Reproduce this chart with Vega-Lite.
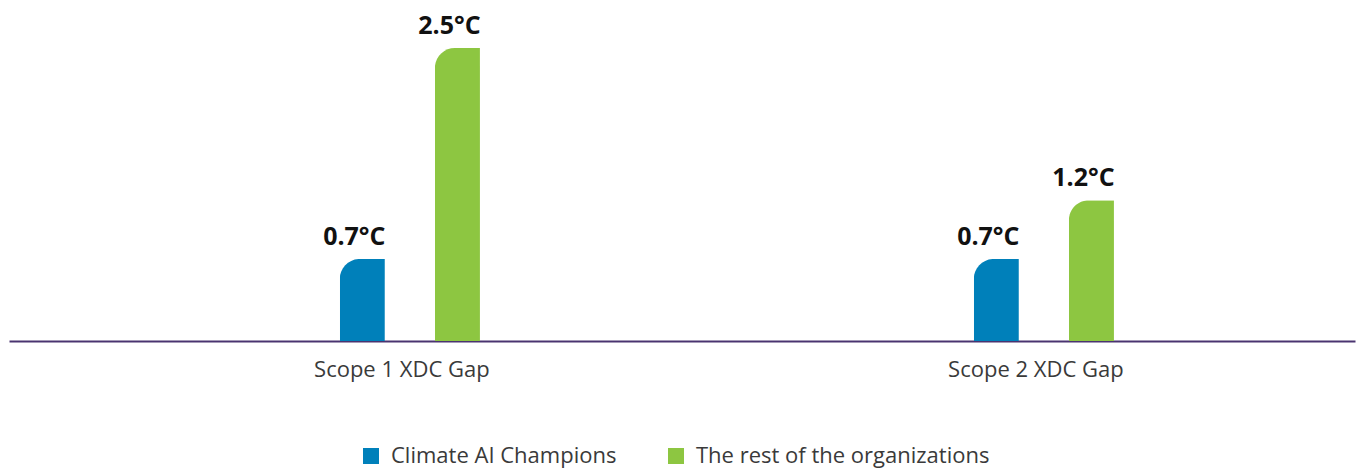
{
  "$schema": "https://vega.github.io/schema/vega-lite/v6.json",
  "width": 1346,
  "height": 293,
  "autosize": {"type": "none"},
  "padding": {"left": 9, "top": 48, "right": 5, "bottom": 128},
  "background": "white",
  "config": {"view": {"stroke": null}, "font": "Open Sans"},
  "data": {
    "values": [
      {"scope": "Scope 1 XDC Gap", "group": "Climate AI Champions", "value": 0.7, "label": "0.7°C"},
      {"scope": "Scope 1 XDC Gap", "group": "The rest of the organizations", "value": 2.5, "label": "2.5°C"},
      {"scope": "Scope 2 XDC Gap", "group": "Climate AI Champions", "value": 0.7, "label": "0.7°C"},
      {"scope": "Scope 2 XDC Gap", "group": "The rest of the organizations", "value": 1.2, "label": "1.2°C"}
    ]
  },
  "encoding": {
    "x": {
      "field": "scope",
      "type": "nominal",
      "scale": {"paddingInner": 0.7, "paddingOuter": 0.4115, "align": 0.586},
      "axis": {
        "title": null,
        "labelAngle": 0,
        "ticks": false,
        "domainColor": "#4a3470",
        "domainWidth": 2,
        "labelFontSize": 22,
        "labelColor": "#3a3a3a",
        "labelPadding": 18,
        "labelOffset": -8,
        "labelFont": "Open Sans"
      }
    },
    "xOffset": {
      "field": "group",
      "type": "nominal",
      "scale": {"paddingInner": 0.526, "paddingOuter": 0.263}
    },
    "y": {
      "field": "value",
      "type": "quantitative",
      "scale": {"domain": [0, 2.5]},
      "axis": null
    }
  },
  "layer": [
    {
      "mark": {"type": "bar", "cornerRadiusTopLeft": 20},
      "encoding": {
        "color": {
          "field": "group",
          "type": "nominal",
          "scale": {"domain": ["Climate AI Champions", "The rest of the organizations"], "range": ["#0080ba", "#8dc641"]},
          "legend": {
            "title": null,
            "orient": "none",
            "direction": "horizontal",
            "legendX": 351,
            "legendY": 397,
            "symbolType": "square",
            "symbolSize": 256,
            "symbolStrokeWidth": 0,
            "symbolOpacity": 1,
            "labelFontSize": 22,
            "labelColor": "#3a3a3a",
            "labelOffset": 9,
            "columnPadding": 48,
            "labelFont": "Open Sans",
            "labelLimit": 400
          }
        }
      }
    },
    {
      "mark": {"type": "text", "baseline": "bottom", "dy": -9, "dx": -8, "fontSize": 25, "fontWeight": "bold", "font": "Open Sans", "color": "#111111"},
      "encoding": {"text": {"field": "label"}}
    }
  ]
}
